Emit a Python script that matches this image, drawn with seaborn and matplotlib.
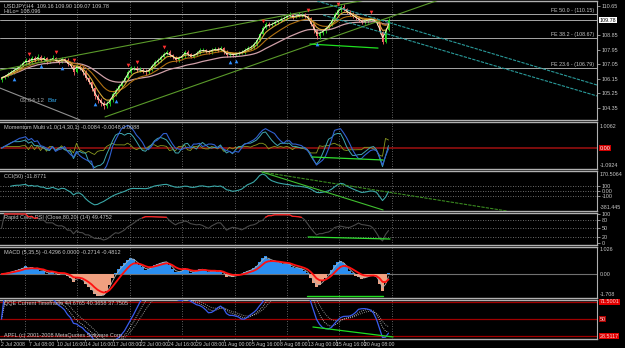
import numpy as np
import pandas as pd
import matplotlib
matplotlib.use("Agg")
import matplotlib.pyplot as plt
import matplotlib.transforms as mtrans
import seaborn as sns

# ---------------- data ----------------
title_main = "USDJPY,H4  109.16 109.90 109.07 109.78"
title_hilo = "HiLo= 108.096"
title_mom = "Momentum Multi v1.0(14,30,1) -0.0084 -0.0048 0.0088"
title_cci = "CCI(50) -11.8771"
title_rsi = "Rapid Color RSI (Close,80,20) (14) 49.4752"
title_macd = "MACD (5,35,5) -0.4296 0.0000 -0.2714 -0.4812"
title_qqe = "QQE Current Timeframe 44.6765 40.3658 37.7505"
copyright_text = "APFL (c) 2001-2008 MetaQuotes Software Corp."
timer_text = "03:04:12"
timer_tag = "Bar"

first_open = 106.05
close = [106.18, 106.31, 106.43, 106.56, 106.68, 106.80, 106.93, 107.11, 107.30, 107.18,
         107.42, 107.30, 107.49, 107.30, 107.42, 107.18, 107.30, 107.42, 107.24, 107.18,
         107.36, 107.30, 107.05, 106.93, 106.56, 106.93, 106.80, 106.56, 106.18, 105.94,
         105.56, 105.07, 104.82, 104.63, 104.45, 104.57, 104.82, 105.19, 105.44, 105.69,
         105.94, 106.18, 106.56, 106.80, 106.80, 106.68, 106.68, 106.62, 106.56, 106.68,
         106.93, 107.18, 107.30, 107.49, 107.67, 107.80, 107.61, 107.49, 107.30, 107.42,
         107.55, 107.80, 107.67, 107.49, 107.61, 107.73, 107.92, 107.92, 107.86, 107.80,
         107.92, 107.98, 107.92, 108.04, 107.80, 107.61, 107.67, 107.61, 107.67, 107.73,
         107.80, 107.92, 108.04, 108.11, 108.29, 108.54, 108.91, 109.28, 109.53, 109.47,
         109.53, 109.66, 109.72, 109.84, 109.90, 110.03, 110.09, 109.97, 110.03, 110.09,
         110.09, 110.03, 109.90, 109.53, 109.16, 108.79, 108.97, 109.10, 109.28, 109.47,
         109.78, 110.15, 110.40, 110.59, 110.46, 110.28, 110.15, 110.03, 109.90, 109.78,
         109.66, 109.72, 109.78, 109.84, 109.78, 109.59, 109.04, 108.42, 109.16, 109.78]
high = [106.30, 106.40, 106.55, 106.65, 106.80, 106.95, 107.05, 107.25, 107.45, 107.40,
        107.55, 107.55, 107.65, 107.60, 107.55, 107.50, 107.45, 107.60, 107.50, 107.35,
        107.50, 107.45, 107.40, 107.15, 107.00, 107.05, 107.05, 106.90, 106.65, 106.25,
        106.00, 105.65, 105.20, 104.95, 104.75, 104.75, 104.95, 105.30, 105.55, 105.80,
        106.05, 106.30, 106.70, 106.95, 106.95, 106.90, 106.85, 106.80, 106.75, 106.80,
        107.05, 107.30, 107.45, 107.60, 107.80, 107.95, 107.90, 107.70, 107.55, 107.55,
        107.65, 107.90, 107.90, 107.75, 107.70, 107.85, 108.05, 108.05, 108.00, 107.95,
        108.05, 108.10, 108.10, 108.15, 108.10, 107.90, 107.80, 107.75, 107.80, 107.85,
        107.90, 108.05, 108.15, 108.25, 108.40, 108.65, 109.05, 109.40, 109.65, 109.65,
        109.65, 109.80, 109.85, 109.95, 110.05, 110.15, 110.25, 110.20, 110.15, 110.25,
        110.20, 110.20, 110.10, 109.95, 109.60, 109.25, 109.10, 109.20, 109.40, 109.60,
        109.90, 110.25, 110.50, 110.70, 110.75, 110.55, 110.40, 110.25, 110.10, 110.00,
        109.85, 109.85, 109.90, 109.95, 109.95, 109.90, 109.65, 109.10, 109.25, 109.90]
low = [105.95, 106.10, 106.25, 106.35, 106.45, 106.60, 106.70, 106.85, 107.00, 107.05,
       107.10, 107.20, 107.25, 107.20, 107.20, 107.05, 107.10, 107.25, 107.15, 107.05,
       107.10, 107.15, 106.90, 106.80, 106.40, 106.50, 106.65, 106.40, 106.05, 105.80,
       105.40, 104.90, 104.65, 104.45, 104.25, 104.30, 104.45, 104.70, 105.05, 105.35,
       105.60, 105.85, 106.10, 106.45, 106.65, 106.55, 106.55, 106.50, 106.40, 106.45,
       106.60, 106.85, 107.10, 107.20, 107.40, 107.60, 107.50, 107.35, 107.20, 107.20,
       107.35, 107.45, 107.55, 107.40, 107.40, 107.55, 107.65, 107.80, 107.75, 107.70,
       107.70, 107.85, 107.80, 107.85, 107.70, 107.50, 107.50, 107.50, 107.55, 107.60,
       107.65, 107.70, 107.85, 107.95, 108.00, 108.20, 108.45, 108.85, 109.20, 109.35,
       109.40, 109.45, 109.55, 109.65, 109.75, 109.80, 109.95, 109.85, 109.90, 109.95,
       109.95, 109.90, 109.80, 109.40, 109.00, 108.60, 108.60, 108.85, 109.00, 109.20,
       109.40, 109.70, 110.05, 110.30, 110.35, 110.15, 110.05, 109.90, 109.80, 109.65,
       109.55, 109.55, 109.60, 109.70, 109.65, 109.50, 108.90, 108.30, 108.35, 109.07]

time_labels = ["2 Jul 2008", "7 Jul 08:00", "10 Jul 16:00", "14 Jul 16:00", "17 Jul 08:00",
               "22 Jul 00:00", "24 Jul 16:00", "29 Jul 08:00", "1 Aug 00:00", "5 Aug 16:00",
               "8 Aug 08:00", "13 Aug 00:00", "15 Aug 16:00", "20 Aug 08:00"]
price_ticks = [110.65, 108.85, 107.95, 107.05, 106.15, 105.25, 104.35]
last_price = 109.78
fib_levels = [110.15, 108.67, 106.79]
fib_names = ["FE 50.0 - (110.15)", "FE 38.2 - (108.67)", "FE 23.6 - (106.79)"]

fractal_up_bars = [9, 18, 24, 42, 45, 54, 87, 102, 112, 123]
fractal_dn_bars = [4, 13, 20, 31, 38, 76, 78, 105]

# chart objects: anchors as (bar index, value)
channel_upper = [(-0.5, 106.68), (119.5, 110.96)]
channel_lower = [(34.5, 103.77), (136.2, 110.40)]
gray_line = [(-0.5, 105.56), (26.2, 103.58)]
cyan_upper = [(105.2, 110.96), (198.5, 105.75)]
cyan_lower = [(107.2, 110.09), (198.5, 105.07)]
price_div = [(102.8, 108.29), (125.5, 108.04)]
mom_div = [(103.5, -0.68), (127.2, -0.91)]
cci_div_long = [(86.8, 380), (168.5, -400)]
cci_div_short = [(86.8, 380), (127.2, -380)]
rsi_div = [(102.2, 20.7), (129.5, 13.8)]
macd_div = [(101.8, -0.96), (127.2, -0.96)]
qqe_div = [(103.8, 40.6), (130.5, 28.9)]

cci_levels = [100, 0, -100]
rsi_levels = [80, 50, 20]
qqe_levels = [70, 50, 30]

# ---------------- style ----------------
sns.set_theme(style="dark", rc={"axes.facecolor": "black", "figure.facecolor": "black"})
plt.rcParams["font.family"] = ["Liberation Sans Narrow", "Liberation Sans", "DejaVu Sans"]
TXT = "#c8c8c8"
SEP = "#b0b0b0"
FS = 4.0
FSR = 3.9
BULL, BEAR = "#22dd22", "#ff6a6a"

W, H = 625, 348
XR = 597
PANELS = {"main": (1, 120), "mom": (122, 169), "cci": (171, 211),
          "rsi": (213, 245), "macd": (247, 298), "qqe": (300, 339)}
GRID_PX = [25 + 52.4 * k for k in range(8)]
LABEL_PX0, LABEL_STEP = 1.0, 27.9
BAR_PX = 3.0

def px2bar(px):
    return px / BAR_PX - 0.5

fig = plt.figure(figsize=(W / 100, H / 100), dpi=100, facecolor="black")
axes = {}
for name, (t, b) in PANELS.items():
    ax = fig.add_axes([0, 1 - b / H, XR / W, (b - t) / H])
    ax.set_facecolor("black")
    ax.set_xlim(px2bar(0), px2bar(XR))
    for s in ("top", "bottom"):
        ax.spines[s].set_color(SEP)
        ax.spines[s].set_linewidth(1.0)
    ax.spines["right"].set_color(SEP)
    ax.spines["right"].set_linewidth(0.8)
    ax.spines["left"].set_visible(False)
    ax.grid(False)
    ax.yaxis.tick_right()
    ax.tick_params(axis="y", colors=TXT, labelsize=FSR, length=2, width=0.5, pad=1.2)
    ax.tick_params(axis="x", bottom=False, labelbottom=False)
    for gx in GRID_PX:
        ax.axvline(px2bar(gx), color="#808080", lw=0.6, ls=(0, (1, 2)), zorder=0)
    axes[name] = ax

def lp(ax, x, y, color, lw=0.8, ls="-", z=3):
    s = pd.DataFrame({"x": np.asarray(x, float), "y": np.asarray(y, float)}).dropna()
    sns.lineplot(data=s, x="x", y="y", ax=ax, color=color, linewidth=lw, linestyle=ls,
                 legend=False, sort=False, errorbar=None, zorder=z)
    ax.set_xlabel(""); ax.set_ylabel("")

def seg(ax, pts, color, lw=0.8, ls="-"):
    (x1, y1), (x2, y2) = pts
    ax.plot([x1, x2], [y1, y2], color=color, lw=lw, ls=ls, zorder=4)

def ray(ax, pts, color, lw=0.8, ls="-", xmax=300):
    (x1, y1), (x2, y2) = pts
    k = (y2 - y1) / (x2 - x1)
    ax.plot([x1, xmax], [y1, y1 + k * (xmax - x1)], color=color, lw=lw, ls=ls, zorder=4)

def rlabel(ax, y, text, fc=None, tc=TXT):
    tr = mtrans.blended_transform_factory(ax.transAxes, ax.transData)
    kw = dict(bbox=dict(boxstyle="square,pad=0.12", fc=fc, ec="none")) if fc else {}
    ax.text(1.004, y, text, transform=tr, fontsize=FSR, color=tc, va="center", ha="left",
            clip_on=False, **kw)

def ftext(ax, yfrac, text, tc=TXT):
    ax.text(1.005, yfrac, text, transform=ax.transAxes, fontsize=FSR, color=tc,
            va="center", ha="left", clip_on=False)

def title(ax, text, yfrac):
    ax.text(0.006, yfrac, text, transform=ax.transAxes, fontsize=FS, color=TXT, va="top", ha="left")

c = pd.Series(close, dtype=float)
h = pd.Series(high, dtype=float)
l = pd.Series(low, dtype=float)
o = c.shift(1).fillna(first_open)
idx = np.arange(len(c))

# ---------------- main panel ----------------
ax = axes["main"]
ax.set_ylim(103.58, 110.96)
for lvl in fib_levels + [last_price]:
    ax.axhline(lvl, color="#a8a8a8", lw=0.7, zorder=1)
for lvl, name in zip(fib_levels, fib_names):
    ax.text(px2bar(594), lvl + 0.05, name, fontsize=FS - 0.2, color=TXT, ha="right", va="bottom")
ray(ax, channel_upper, "#5a9a2a", lw=0.8, xmax=px2bar(700))
ray(ax, channel_lower, "#5a9a2a", lw=0.8, xmax=px2bar(700))
seg(ax, gray_line, "#909090", lw=0.8)
seg(ax, cyan_upper, "#2a9a9a", lw=0.8, ls=(0, (3, 1)))
seg(ax, cyan_lower, "#2a9a9a", lw=0.8, ls=(0, (3, 1)))

up = (c >= o).values
ax.vlines(idx, l, h, colors=np.where(up, BULL, BEAR), lw=0.6, zorder=3)
body = np.maximum(np.abs(c - o).values, 0.03)
ax.bar(idx, body, bottom=np.minimum(o, c).values, width=0.6,
       color=np.where(up, BULL, BEAR), zorder=3, linewidth=0)

lp(ax, idx, c.ewm(span=30).mean(), "#d0a0a8", lw=0.9)
lp(ax, idx, c.ewm(span=12).mean(), "#b07010", lw=0.8)
lp(ax, idx, c.ewm(span=5).mean(), "#d8a838", lw=0.8)
lp(ax, idx, c.ewm(span=2).mean(), "#f4f0c8", lw=0.7)

fu = np.array(fractal_up_bars)
fd = np.array(fractal_dn_bars)
ax.scatter(fu, h.values[fu] + 0.3, marker="v", s=7, color="#ff3030", zorder=5, linewidths=0)
ax.scatter(fd, l.values[fd] - 0.3, marker="^", s=7, color="#3090ff", zorder=5, linewidths=0)
seg(ax, price_div, "#20e020", lw=0.9)

ax.set_yticks(price_ticks)
ax.set_yticklabels([f"{v:.2f}" for v in price_ticks])
rlabel(ax, last_price, f"{last_price:.2f}", fc="white", tc="black")
title(ax, title_main, 0.985)
title(ax, title_hilo, 0.93)
ax.text(px2bar(20), 104.8, timer_text, fontsize=FS + 0.6, color="#a0a0a0", va="center")
ax.text(px2bar(48), 104.8, timer_tag, fontsize=FS + 0.6, color="#30a0e0", va="center")

# ---------------- momentum ----------------
ax = axes["mom"]
ax.set_ylim(-1.6, 2.0)
ax.axhline(0, color="#a01010", lw=1.1, zorder=1)
lp(ax, idx, c - c.shift(1).bfill(), "#8a9a20", lw=0.6)
lp(ax, idx, c - c.shift(4).bfill(), "#40a8b0", lw=0.7)
lp(ax, idx, c - c.shift(6).bfill(), "#3060d0", lw=0.8)
seg(ax, mom_div, "#30e030", lw=0.9)
ax.set_yticks([])
ftext(ax, 0.9, "1.0062")
rlabel(ax, 0, "0.00", fc="#d00000", tc="white")
ftext(ax, 0.07, "-1.0924")
title(ax, title_mom, 0.93)

# ---------------- CCI ----------------
ax = axes["cci"]
ax.set_ylim(-400, 400)
for lvl in cci_levels:
    ax.axhline(lvl, color="#909090", lw=0.6, ls=(0, (1, 2)), zorder=1)
tp = (h + l + c) / 3
sma = tp.rolling(28, min_periods=4).mean()
mad = tp.rolling(28, min_periods=4).apply(lambda a: np.mean(np.abs(a - a.mean())), raw=True)
cci = (tp - sma) / (0.015 * mad)
lp(ax, idx, cci, "#3aa8a8", lw=0.8)
seg(ax, cci_div_long, "#3a8a20", lw=0.8, ls=(0, (3, 1)))
seg(ax, cci_div_short, "#40c030", lw=0.8)
ax.set_yticks(cci_levels)
ax.set_yticklabels(["100", "0.00", "-100"])
ftext(ax, 0.92, "170.5064")
ftext(ax, 0.08, "-381.445")
title(ax, title_cci, 0.93)

# ---------------- RSI ----------------
ax = axes["rsi"]
ax.set_ylim(-6.9, 103.4)
for lvl in rsi_levels:
    ax.axhline(lvl, color="#909090", lw=0.6, ls=(0, (1, 2)), zorder=1)
d = c.diff().fillna(0)
gain = d.clip(lower=0).rolling(14, min_periods=1).mean()
loss = (-d.clip(upper=0)).rolling(14, min_periods=1).mean()
rsi = (100 * gain / (gain + loss)).fillna(50)
lp(ax, idx, rsi, "#4a4a4a", lw=0.8)
hot = np.where(rsi.values > 85, rsi.values, np.nan)
ax.plot(idx, hot, color="#ff2020", lw=0.9, zorder=4)
seg(ax, rsi_div, "#30e030", lw=0.9)
ax.set_yticks([100, 80, 50, 20, 0])
ax.set_yticklabels(["100", "80", "50", "20", "0"])
title(ax, title_rsi, 0.95)

# ---------------- MACD ----------------
ax = axes["macd"]
ax.set_ylim(-1.05, 1.19)
ax.axhline(0, color="#707070", lw=0.8, zorder=1)
macd = c.ewm(span=2).mean() - c.ewm(span=10).mean()
ax.bar(idx, macd.values, width=0.75, color=np.where(macd.values >= 0, "#2a8ef0", "#f0a080"),
       linewidth=0, zorder=2)
lp(ax, idx, macd.ewm(span=2).mean(), "#b0b0b0", lw=0.6)
lp(ax, idx, macd.ewm(span=6).mean(), "#ff1010", lw=1.3)
seg(ax, macd_div, "#20e020", lw=1.0)
ax.set_yticks([])
ftext(ax, 0.95, "1.026")
rlabel(ax, 0, "0.00")
ftext(ax, 0.07, "-1.708")
title(ax, title_macd, 0.95)

# ---------------- QQE ----------------
ax = axes["qqe"]
ax.set_ylim(26.5, 72.35)
for lvl in qqe_levels:
    ax.axhline(lvl, color="#a00000", lw=0.9, zorder=1)
qqe_blue = rsi.ewm(span=5).mean()
lp(ax, idx, qqe_blue.ewm(span=8).mean(), "#909090", lw=0.7, ls=(0, (1, 1.2)))
lp(ax, idx, qqe_blue.ewm(span=4).mean(), "#e0e0e0", lw=0.6, ls=(0, (1, 1.5)))
lp(ax, idx, qqe_blue, "#3a5cf0", lw=0.9)
seg(ax, qqe_div, "#20e020", lw=0.9)
ax.set_yticks([])
rlabel(ax, 70, "71.5001", fc="#e00000", tc="#ffd0d0")
rlabel(ax, 50, "50", fc="#b00000", tc="#ffd0d0")
rlabel(ax, 30, "28.5117", fc="#e00000", tc="#ffd0d0")
title(ax, title_qqe, 0.97)
ax.text(0.006, 0.1, copyright_text, transform=ax.transAxes, fontsize=FS, color=TXT, va="center")

lab_pos = [px2bar(LABEL_PX0 + LABEL_STEP * k) for k in range(len(time_labels))]
ax.set_xticks(lab_pos)
ax.set_xticklabels(time_labels, ha="left")
ax.tick_params(axis="x", bottom=True, labelbottom=True, colors=TXT, labelsize=3.7,
               length=1.5, width=0.5, pad=0.8)

fig.savefig("out.png", dpi=100, facecolor="black")
